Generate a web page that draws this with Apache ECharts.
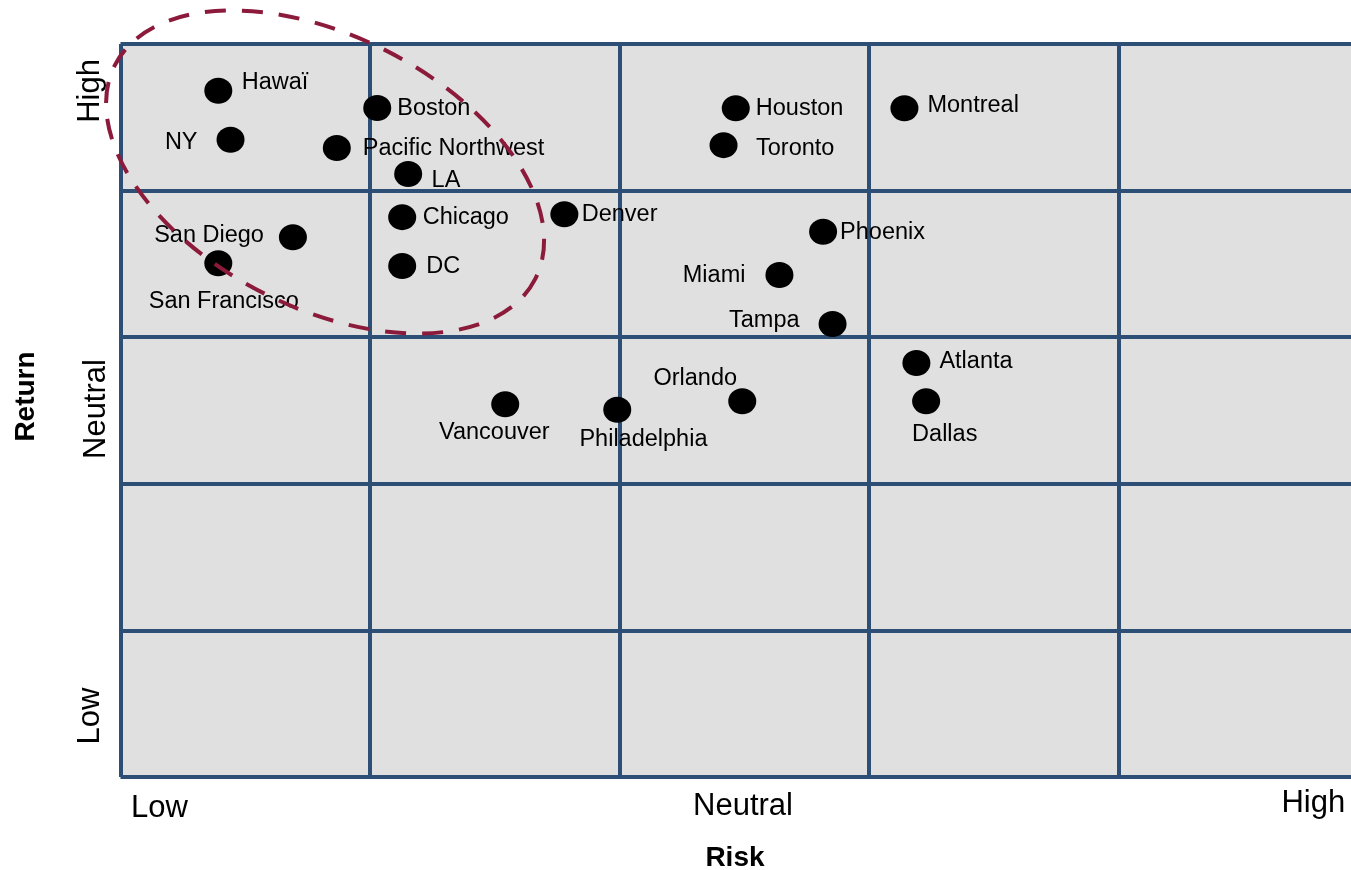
<!DOCTYPE html>
<html>
<head>
<meta charset="utf-8">
<script src="https://cdn.jsdelivr.net/npm/echarts@6.0.0/dist/echarts.min.js"></script>
<style>html,body{margin:0;padding:0;background:#fff}#c{width:1351px;height:870px}</style>
</head>
<body>
<div id="c"></div>
<script>
// ---- data ----
const cities = ['Hawaï','NY','Boston','Pacific Northwest','LA','Chicago','DC','San Diego','San Francisco','Denver','Houston','Toronto','Montreal','Phoenix','Miami','Tampa','Atlanta','Dallas','Orlando','Philadelphia','Vancouver'];
const riskValues   = [0.392,0.441,1.029,0.867,1.153,1.129,1.129,0.691,0.392,1.779,2.466,2.417,3.142,2.816,2.641,2.854,3.190,3.229,2.492,1.991,1.542];
const returnValues = [4.681,4.347,4.563,4.291,4.113,3.819,3.486,3.682,3.504,3.839,4.562,4.310,4.562,3.719,3.424,3.090,2.824,2.563,2.563,2.505,2.543];
const xTickLabels = ['Low','Neutral','High'];
const yTickLabels = ['Low','Neutral','High'];
const xTickValues = [0.156, 2.495, 4.781];
const yTickValues = [0.416, 2.51, 4.68];
const highlightCenter = [0.820, 4.127];

// ---- label placement (layout only) ----
const labelPlacement = {
  'Hawaï': ['right', 9.4, 0, -8.5],
  'NY': ['left', 19, 0, 2.3],
  'Boston': ['right', 6, 0, 0.7],
  'Pacific Northwest': ['right', 12, 0, 0.3],
  'LA': ['right', 9.4, 0, 6.3],
  'Chicago': ['right', 6.5, 0, 0.6],
  'DC': ['right', 10, 0, 0.3],
  'San Diego': ['left', 15, 0, -1.7],
  'San Francisco': ['bottom', 13.5, 5.5, 0],
  'Denver': ['right', 3.4, 0, 0.8],
  'Houston': ['right', 6, 0, 0.6],
  'Toronto': ['right', 18.5, 0, 3.5],
  'Montreal': ['right', 9, 0, -3],
  'Phoenix': ['right', 3, 0, 1],
  'Miami': ['left', 20, 0, 0],
  'Tampa': ['left', 19, 0, -3.3],
  'Atlanta': ['right', 9, 0, -1],
  'Dallas': ['bottom', 8, 18.6, 0],
  'Orlando': ['top', -2, -47, 0],
  'Philadelphia': ['bottom', 5.2, 26.2, 0],
  'Vancouver': ['bottom', 3, -10.9, 0]
};

const FONT = '"Liberation Sans", Arial, sans-serif';
const GRIDC = '#2D4F76';

function idx(vals, v) {
  let best = 0, bd = Infinity;
  vals.forEach((x, i) => { const d = Math.abs(x - v); if (d < bd) { bd = d; best = i; } });
  return best;
}

const scatterData = cities.map((name, i) => {
  const p = labelPlacement[name];
  return {
    name: name,
    value: [riskValues[i], returnValues[i]],
    label: { position: p[0], distance: p[1], offset: [p[2], p[3]] }
  };
});

const chart = echarts.init(document.getElementById('c'), null, { renderer: 'canvas' });
chart.setOption({
  animation: false,
  backgroundColor: '#fff',
  grid: {
    left: 120.5, top: 44, width: 1247.5, height: 733,
    show: true, backgroundColor: '#E0E0E0', borderWidth: 0,
    containLabel: false, outerBoundsMode: 'none'
  },
  xAxis: {
    type: 'value', min: 0, max: 5, interval: 1,
    axisLine: { show: false }, axisTick: { show: false },
    splitLine: { show: true, showMinLine: true, showMaxLine: true, lineStyle: { color: GRIDC, width: 4 } },
    axisLabel: {
      customValues: xTickValues,
      margin: 11,
      fontSize: 31, fontFamily: FONT, color: '#000',
      formatter: function (v) { const i = idx(xTickValues, v); return '{t' + i + '|' + xTickLabels[i] + '}'; },
      rich: {
        t0: { fontSize: 31, fontFamily: FONT, color: '#000', padding: [5, 0, 0, 0] },
        t1: { fontSize: 31, fontFamily: FONT, color: '#000', padding: [3, 0, 0, 0] },
        t2: { fontSize: 31, fontFamily: FONT, color: '#000', padding: [0, 0, 0, 0] }
      }
    },
    name: 'Risk', nameLocation: 'middle', nameGap: 67.6,
    nameTextStyle: { fontSize: 28, fontWeight: 'bold', fontFamily: FONT, color: '#000', padding: [0, 18.6, 0, 0] }
  },
  yAxis: {
    type: 'value', min: 0, max: 5, interval: 1,
    axisLine: { show: false }, axisTick: { show: false },
    splitLine: { show: true, showMinLine: true, showMaxLine: true, lineStyle: { color: GRIDC, width: 4 } },
    axisLabel: {
      customValues: yTickValues,
      rotate: 90,
      margin: 9,
      fontSize: 31, fontFamily: FONT, color: '#000',
      formatter: function (v) { const i = idx(yTickValues, v); return '{t' + i + '|' + yTickLabels[i] + '}'; },
      rich: {
        t0: { fontSize: 31, fontFamily: FONT, color: '#000', padding: [0, 0, 6, 0] },
        t1: { fontSize: 31, fontFamily: FONT, color: '#000', padding: [0, 0, 0, 0] },
        t2: { fontSize: 31, fontFamily: FONT, color: '#000', padding: [0, 0, 6, 0] }
      }
    },
    name: 'Return', nameLocation: 'middle', nameRotate: 90, nameGap: 80,
    nameTextStyle: { fontSize: 28, fontWeight: 'bold', fontFamily: FONT, color: '#000', padding: [0, 0, 0, 28] }
  },
  series: [
    {
      type: 'scatter',
      symbol: 'circle',
      symbolSize: [28, 26],
      itemStyle: { color: '#000', opacity: 1 },
      label: { show: true, formatter: '{b}', color: '#000', opacity: 1, fontSize: 23.5, fontFamily: FONT },
      data: scatterData,
      z: 3
    },
    {
      type: 'custom',
      silent: true,
      clip: false,
      z: 10,
      data: [highlightCenter],
      renderItem: function (params, api) {
        const c = api.coord([api.value(0), api.value(1)]);
        const a = 235.8, b = 135.9;
        return {
          type: 'path',
          x: c[0], y: c[1],
          rotation: -26.95 * Math.PI / 180,
          shape: { pathData: 'M ' + a + ' 0 A ' + a + ' ' + b + ' 0 1 1 ' + (-a) + ' 0 A ' + a + ' ' + b + ' 0 1 1 ' + a + ' 0 Z' },
          style: { fill: 'none', stroke: '#8C1B3B', lineWidth: 4, lineDash: [21, 16] }
        };
      }
    }
  ]
});
</script>
</body>
</html>
